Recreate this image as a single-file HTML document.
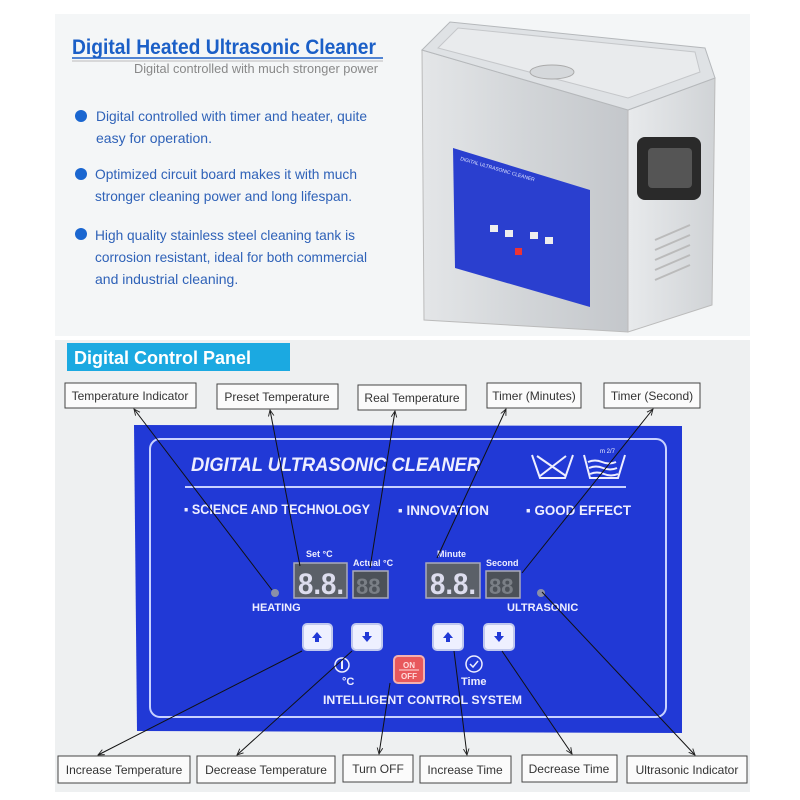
<!DOCTYPE html>
<html><head><meta charset="utf-8"><style>
body{margin:0;background:#fff}
svg{display:block}
text{font-family:"Liberation Sans",sans-serif}
</style></head><body>
<svg width="800" height="800" viewBox="0 0 800 800" xmlns="http://www.w3.org/2000/svg">
<defs>
<linearGradient id="fr" x1="0" x2="1" y1="0" y2="0"><stop offset="0" stop-color="#e4e6e8"/><stop offset="0.5" stop-color="#d2d5d8"/><stop offset="1" stop-color="#c4c7cb"/></linearGradient>
<linearGradient id="sd" x1="0" x2="1"><stop offset="0" stop-color="#e8eaec"/><stop offset="1" stop-color="#d0d3d6"/></linearGradient>
<marker id="ah" viewBox="0 0 10 10" refX="9" refY="5" markerWidth="7" markerHeight="7" orient="auto-start-reverse"><path d="M0,1 L9,5 L0,9" fill="none" stroke="#222" stroke-width="1.3"/></marker>
</defs>
<rect x="55" y="14" width="695" height="322" fill="#f4f6f7"/>
<rect x="55" y="340" width="695" height="452" fill="#eef0f1"/>
<!-- top text -->
<text x="72" y="54" font-size="21" font-weight="bold" fill="#1b5fc7" textLength="304" lengthAdjust="spacingAndGlyphs">Digital Heated Ultrasonic Cleaner</text>
<line x1="72" y1="58" x2="383" y2="58" stroke="#1b5fc7" stroke-width="1.5"/>
<line x1="72" y1="61" x2="383" y2="61" stroke="#bbb" stroke-width="1"/>
<text x="378" y="73" font-size="13" fill="#888" text-anchor="end" textLength="244" lengthAdjust="spacingAndGlyphs">Digital controlled with much stronger power</text>
<g fill="#1a66d0"><circle cx="81" cy="116" r="6"/><circle cx="81" cy="174" r="6"/><circle cx="81" cy="234" r="6"/></g>
<g font-size="14" fill="#2f62b8">
<text x="96" y="121" textLength="271" lengthAdjust="spacingAndGlyphs">Digital controlled with timer and heater, quite</text>
<text x="96" y="143">easy for operation.</text>
<text x="95" y="179" textLength="262" lengthAdjust="spacingAndGlyphs">Optimized circuit board makes it with much</text>
<text x="95" y="201" textLength="257" lengthAdjust="spacingAndGlyphs">stronger cleaning power and long lifespan.</text>
<text x="95" y="240" textLength="260" lengthAdjust="spacingAndGlyphs">High quality stainless steel cleaning tank is</text>
<text x="95" y="262" textLength="272" lengthAdjust="spacingAndGlyphs">corrosion resistant, ideal for both commercial</text>
<text x="95" y="284">and industrial cleaning.</text>
</g>
<!-- tank -->
<polygon points="628,110 715,78 712,305 628,332" fill="url(#sd)" stroke="#bbb"/>
<polygon points="422,50 628,110 628,332 424,320" fill="url(#fr)" stroke="#bbb"/>
<polygon points="422,50 450,22 705,48 715,78 628,110" fill="#dfe2e5" stroke="#b5b8bb"/>
<polygon points="438,48 458,28 695,52 700,72 628,98" fill="#e9ebed" stroke="#c5c7ca"/>
<ellipse cx="552" cy="72" rx="22" ry="7" fill="#d5d8db" stroke="#aaa"/>
<polygon points="453,148 590,190 590,307 455,268" fill="#2a3fcf"/>
<g fill="#dfe4ff" font-size="5"><text x="460" y="160" transform="rotate(16 460 160)">DIGITAL ULTRASONIC CLEANER</text></g>
<rect x="490" y="225" width="8" height="7" fill="#eee"/><rect x="505" y="230" width="8" height="7" fill="#eee"/>
<rect x="530" y="232" width="8" height="7" fill="#eee"/><rect x="545" y="237" width="8" height="7" fill="#eee"/>
<rect x="515" y="248" width="7" height="7" fill="#e33"/>
<rect x="637" y="137" width="64" height="63" rx="8" fill="#2a2a2a"/>
<rect x="648" y="148" width="44" height="40" rx="4" fill="#555"/>
<g stroke="#bbb" stroke-width="2"><line x1="655" y1="240" x2="690" y2="225"/><line x1="655" y1="250" x2="690" y2="235"/><line x1="655" y1="260" x2="690" y2="245"/><line x1="655" y1="270" x2="690" y2="255"/><line x1="655" y1="280" x2="690" y2="265"/></g>
<!-- header -->
<rect x="67" y="343" width="223" height="28" fill="#1ba9e1"/>
<text x="74" y="364" font-size="18" font-weight="bold" fill="#fff">Digital Control Panel</text>
<!-- blue panel -->
<polygon points="134,425 682,426 682,733 137,731" fill="#2139d6"/>
<rect x="150" y="439" width="516" height="278" rx="10" fill="none" stroke="#c9d2ff" stroke-width="2"/>
<text x="191" y="471" font-size="19" font-weight="bold" font-style="italic" fill="#eef" textLength="289" lengthAdjust="spacingAndGlyphs">DIGITAL ULTRASONIC CLEANER</text>
<line x1="185" y1="487" x2="626" y2="487" stroke="#c9d2ff" stroke-width="2"/>
<g font-size="14" font-weight="bold" fill="#eef">
<text x="184" y="514" textLength="186" lengthAdjust="spacingAndGlyphs">▪ SCIENCE AND TECHNOLOGY</text>
<text x="398" y="515" textLength="91" lengthAdjust="spacingAndGlyphs">▪ INNOVATION</text>
<text x="526" y="515" textLength="105" lengthAdjust="spacingAndGlyphs">▪ GOOD EFFECT</text>
</g>
<g stroke="#eef" stroke-width="2" fill="none">
<path d="M532,455 L540,478 L565,478 L573,455"/><line x1="537" y1="456" x2="566" y2="476"/><line x1="566" y1="456" x2="540" y2="476"/>
<path d="M584,455 L590,478 L618,478 L625,455"/><path d="M588,462 q7,-3 14,0 t14,0 M589,468 q7,-3 14,0 t14,0 M590,474 q7,-3 14,0 t14,0"/>
</g>
<text x="600" y="453" font-size="6" fill="#eef">m 2/7</text>
<g font-size="9" font-weight="bold" fill="#eef">
<text x="306" y="557">Set °C</text><text x="353" y="566">Actual °C</text>
<text x="437" y="557">Minute</text><text x="486" y="566">Second</text>
</g>
<g stroke="#aab" stroke-width="1.5">
<rect x="294" y="563" width="53" height="35" fill="#5b6068"/>
<rect x="353" y="571" width="35" height="27" fill="#4c5158"/>
<rect x="426" y="563" width="54" height="35" fill="#5b6068"/>
<rect x="486" y="571" width="34" height="27" fill="#4c5158"/>
</g>
<g font-family="Liberation Mono,monospace" font-weight="bold">
<text x="298" y="594" font-size="30" fill="#dde" textLength="46" lengthAdjust="spacingAndGlyphs">8.8.</text>
<text x="430" y="594" font-size="30" fill="#dde" textLength="46" lengthAdjust="spacingAndGlyphs">8.8.</text>
<text x="356" y="594" font-size="22" fill="#7a7f86">88</text>
<text x="489" y="594" font-size="22" fill="#7a7f86">88</text>
</g>
<circle cx="275" cy="593" r="4" fill="#8a8fa8"/><circle cx="541" cy="593" r="4" fill="#8a8fa8"/>
<g font-size="11" font-weight="bold" fill="#eef">
<text x="252" y="611">HEATING</text><text x="507" y="611">ULTRASONIC</text>
<text x="342" y="685">°C</text><text x="461" y="685">Time</text>
<text x="323" y="704" font-size="12" textLength="199" lengthAdjust="spacingAndGlyphs">INTELLIGENT CONTROL SYSTEM</text>
</g>
<g fill="#eef0ff" stroke="#c0c8ee" stroke-width="2">
<rect x="303" y="624" width="29" height="26" rx="4"/><rect x="352" y="624" width="30" height="26" rx="4"/>
<rect x="433" y="624" width="30" height="26" rx="4"/><rect x="484" y="624" width="30" height="26" rx="4"/>
</g>
<g fill="#2139d6">
<path d="M317,632 l5,6 h-3 v4 h-4 v-4 h-3z"/><path d="M367,642 l5,-6 h-3 v-4 h-4 v4 h-3z"/>
<path d="M448,632 l5,6 h-3 v4 h-4 v-4 h-3z"/><path d="M499,642 l5,-6 h-3 v-4 h-4 v4 h-3z"/>
</g>
<circle cx="342" cy="665" r="7" fill="none" stroke="#eef" stroke-width="1.5"/><line x1="342" y1="660" x2="342" y2="669" stroke="#eef" stroke-width="2"/>
<circle cx="474" cy="664" r="8" fill="none" stroke="#eef" stroke-width="1.5"/><path d="M470,664 l3,3 l5,-6" fill="none" stroke="#eef" stroke-width="1.5"/>
<rect x="394" y="656" width="30" height="27" rx="4" fill="#e8585c" stroke="#f3b0b0" stroke-width="2"/>
<text x="409" y="668" font-size="8" font-weight="bold" fill="#fdd" text-anchor="middle">ON</text>
<line x1="399" y1="670" x2="419" y2="670" stroke="#fdd"/>
<text x="409" y="679" font-size="8" font-weight="bold" fill="#fdd" text-anchor="middle">OFF</text>
<!-- label boxes -->
<g fill="#fbfbfb" stroke="#444" stroke-width="1">
<rect x="65" y="383" width="131" height="25"/><rect x="217" y="384" width="121" height="25"/>
<rect x="358" y="385" width="108" height="25"/><rect x="487" y="383" width="94" height="25"/>
<rect x="604" y="383" width="96" height="25"/>
<rect x="58" y="756" width="132" height="27"/><rect x="197" y="756" width="138" height="27"/>
<rect x="343" y="755" width="70" height="27"/><rect x="420" y="756" width="91" height="27"/>
<rect x="522" y="755" width="95" height="27"/><rect x="627" y="756" width="120" height="27"/>
</g>
<g font-size="12" fill="#333" text-anchor="middle">
<text x="130" y="400">Temperature Indicator</text><text x="277" y="401">Preset Temperature</text>
<text x="412" y="402">Real Temperature</text><text x="534" y="400">Timer (Minutes)</text>
<text x="652" y="400">Timer (Second)</text>
<text x="124" y="774">Increase Temperature</text><text x="266" y="774">Decrease Temperature</text>
<text x="378" y="773">Turn OFF</text><text x="465" y="774">Increase Time</text>
<text x="569" y="773">Decrease Time</text><text x="687" y="774">Ultrasonic Indicator</text>
</g>
<g stroke="#111" stroke-width="1" marker-end="url(#ah)">
<line x1="272" y1="590" x2="134" y2="409"/>
<line x1="300" y1="566" x2="270" y2="410"/>
<line x1="370" y1="568" x2="395" y2="411"/>
<line x1="437" y1="558" x2="506" y2="409"/>
<line x1="522" y1="573" x2="653" y2="409"/>
<line x1="302" y1="651" x2="98" y2="755"/>
<line x1="352" y1="651" x2="237" y2="755"/>
<line x1="390" y1="683" x2="379" y2="754"/>
<line x1="454" y1="651" x2="467" y2="755"/>
<line x1="502" y1="651" x2="572" y2="754"/>
<line x1="542" y1="592" x2="695" y2="755"/>
</g>
</svg>
</body></html>
